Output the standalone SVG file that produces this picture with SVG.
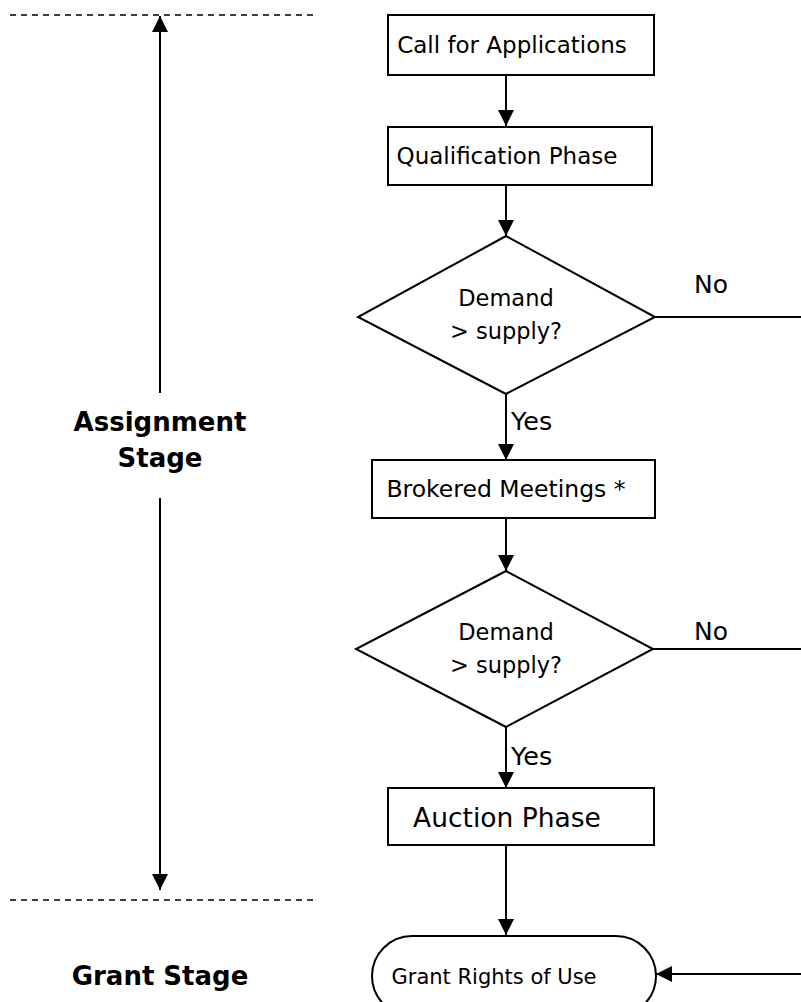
<svg xmlns="http://www.w3.org/2000/svg" width="801" height="1002" viewBox="0 0 801 1002">
<defs>
<marker id="ah" markerWidth="16" markerHeight="16" refX="16" refY="8" orient="auto" markerUnits="userSpaceOnUse">
<path d="M0,0 L16,8 L0,16 Z" fill="#000"/>
</marker>
</defs>
<style>
.box{fill:#fff;stroke:#000;stroke-width:2}
.t{font-family:"DejaVu Sans",Verdana,sans-serif;fill:#000;text-anchor:middle}
.lbl{font-family:"DejaVu Sans",Verdana,sans-serif;fill:#000}
.b{font-family:"DejaVu Sans",Verdana,sans-serif;font-weight:bold;fill:#000;text-anchor:middle;font-size:26px}
.c{stroke:#000;stroke-width:2;fill:none}
.d{stroke:#000;stroke-width:1.5;stroke-dasharray:6,5;fill:none}
</style>
<g id="stage-lines">
<line class="d" x1="10" y1="15" x2="315" y2="15"/>
<line class="d" x1="10" y1="900" x2="315" y2="900"/>
</g>
<g id="stage-labels">
<text class="b" x="160" y="431">Assignment</text>
<text class="b" x="160" y="467">Stage</text>
<text class="b" x="160" y="985" font-size="24.5">Grant Stage</text>
</g>
<g id="connectors">
<line class="c" x1="160" y1="393" x2="160" y2="16" marker-end="url(#ah)"/>
<line class="c" x1="160" y1="498" x2="160" y2="890" marker-end="url(#ah)"/>
<line class="c" x1="506" y1="75" x2="506" y2="126" marker-end="url(#ah)"/>
<line class="c" x1="506" y1="185" x2="506" y2="236" marker-end="url(#ah)"/>
<line class="c" x1="506" y1="394" x2="506" y2="460" marker-end="url(#ah)"/>
<line class="c" x1="506" y1="518" x2="506" y2="571" marker-end="url(#ah)"/>
<line class="c" x1="506" y1="727" x2="506" y2="788" marker-end="url(#ah)"/>
<line class="c" x1="506" y1="845" x2="506" y2="935" marker-end="url(#ah)"/>
<line class="c" x1="655" y1="317" x2="801" y2="317"/>
<line class="c" x1="653" y1="649" x2="801" y2="649"/>
<line class="c" x1="801" y1="974" x2="656" y2="974" marker-end="url(#ah)"/>
<text class="lbl" x="694" y="293" font-size="25">No</text>
<text class="lbl" x="694" y="640" font-size="25">No</text>
<text class="lbl" x="511" y="430" font-size="25.5">Yes</text>
<text class="lbl" x="511" y="765" font-size="25.5">Yes</text>
</g>
<g id="call-for-applications">
<rect class="box" x="388" y="15" width="266" height="60"/>
<text class="t" x="512" y="53" font-size="23">Call for Applications</text>
</g>
<g id="qualification-phase">
<rect class="box" x="388" y="127" width="264" height="58"/>
<text class="t" x="507" y="164" font-size="23">Qualification Phase</text>
</g>
<g id="decision-1">
<polygon class="box" points="506,236 655,317 506,394 358,317"/>
<text class="t" x="506" y="306" font-size="22.5">Demand</text>
<text class="t" x="506" y="339" font-size="22.5">&gt; supply?</text>
</g>
<g id="brokered-meetings">
<rect class="box" x="372" y="460" width="283" height="58"/>
<text class="t" x="506" y="497" font-size="23.5">Brokered Meetings *</text>
</g>
<g id="decision-2">
<polygon class="box" points="506,571 653,649 506,727 356,649"/>
<text class="t" x="506" y="640" font-size="22.5">Demand</text>
<text class="t" x="506" y="673" font-size="22.5">&gt; supply?</text>
</g>
<g id="auction-phase">
<rect class="box" x="388" y="788" width="266" height="57"/>
<text class="t" x="507" y="827" font-size="26.5">Auction Phase</text>
</g>
<g id="grant-rights">
<rect class="box" x="372" y="936" width="284" height="80" rx="40" ry="40"/>
<text class="t" x="494" y="984" font-size="21">Grant Rights of Use</text>
</g>
</svg>
